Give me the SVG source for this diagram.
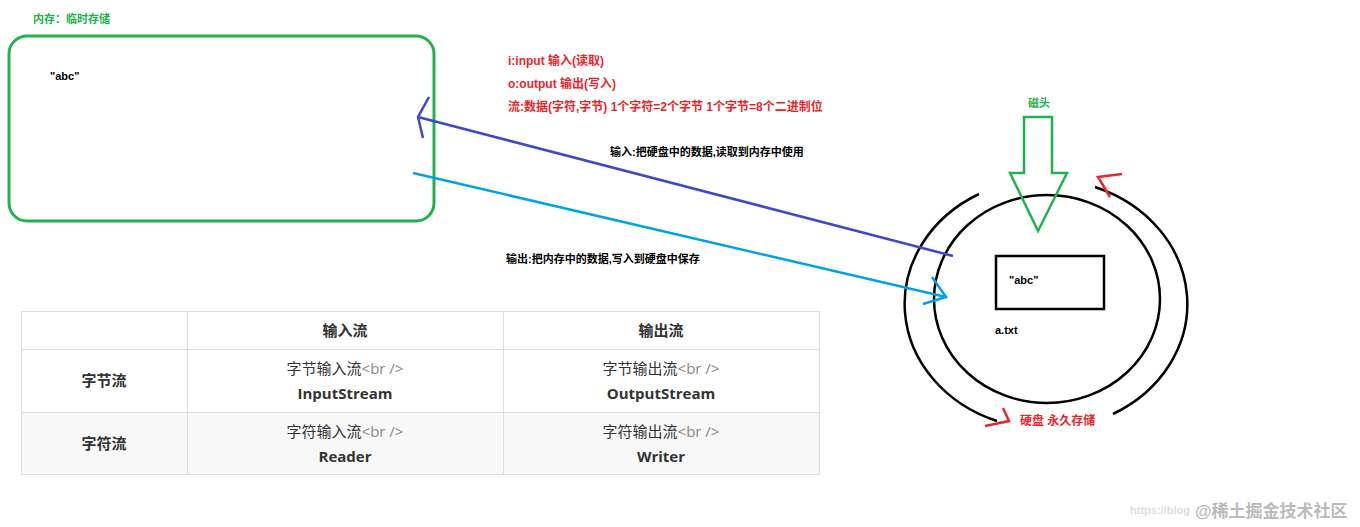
<svg xmlns="http://www.w3.org/2000/svg" width="1360" height="527" viewBox="0 0 1360 527">
<style>
text{font-family:"Liberation Sans","Noto Sans CJK SC",sans-serif;font-weight:bold}
.r{fill:#e8262b;font-size:12px}
.k{fill:#000;font-size:11px}
.t{font-family:"Open Sans","Noto Sans CJK SC",sans-serif;font-size:15px;fill:#333;text-anchor:middle;font-weight:normal}
.tb{font-weight:bold}
.g{fill:#888;font-weight:normal}
</style>
<rect width="1360" height="527" fill="#fff"/>
<g id="memory">
<rect x="9" y="36" width="425" height="185" rx="18" fill="none" stroke="#22b14c" stroke-width="3"/>
<text x="33" y="23" fill="#22b14c" font-size="11">内存：临时存储</text>
<text x="50" y="80" class="k">"abc"</text>
</g>
<g id="notes">
<text x="508" y="65" class="r">i:input 输入(读取)</text>
<text x="508" y="88" class="r">o:output 输出(写入)</text>
<text x="508" y="111" class="r">流:数据(字符,字节) 1个字符=2个字节 1个字节=8个二进制位</text>
</g>
<g id="disk">
<path d="M979,194 A142,125 0 0 0 997,421" fill="none" stroke="#000" stroke-width="2.5"/>
<path d="M1113,414 A142,125 0 0 0 1095,187" fill="none" stroke="#000" stroke-width="2.5"/>
<ellipse cx="1047" cy="299" rx="113" ry="104" fill="none" stroke="#000" stroke-width="2.5"/>
<path d="M985,426 L1009,421 L1003,408" fill="none" stroke="#e8262b" stroke-width="2.5"/>
<path d="M1122,174 L1098,177 L1110,197" fill="none" stroke="#e8262b" stroke-width="2.5"/>
<text x="1020" y="425" class="r">硬盘 永久存储</text>
<rect x="996" y="256" width="108" height="53" fill="none" stroke="#000" stroke-width="2.5"/>
<text x="1009" y="284" class="k">"abc"</text>
<text x="995" y="334" class="k">a.txt</text>
</g>
<g id="head">
<text x="1028" y="107" fill="#22b14c" font-size="11">磁头</text>
<path d="M1024,117 H1052 V173 H1067 L1038,231 L1010,173 H1024 Z" fill="none" stroke="#22b14c" stroke-width="2.5"/>
</g>
<g id="connectors">
<path d="M953,256 L418,117" stroke="#3f48cc" stroke-width="2.5" fill="none"/>
<path d="M429,97 L418,117 L423,138" stroke="#3f48cc" stroke-width="2.5" fill="none"/>
<path d="M413,173 L946,297" stroke="#00a2e8" stroke-width="2.5" fill="none"/>
<path d="M932,277 L946,297 L923,304" stroke="#00a2e8" stroke-width="2.5" fill="none"/>
<text x="610" y="156" class="k">输入:把硬盘中的数据,读取到内存中使用</text>
<text x="506" y="263" class="k">输出:把内存中的数据,写入到硬盘中保存</text>
</g>
<g id="table">
<rect x="21" y="412" width="799" height="63" fill="#f8f8f8"/>
<g fill="none" stroke="#ddd" stroke-width="1">
<rect x="21.5" y="311.5" width="798" height="163"/>
<path d="M21,349.5H820M21,412.5H820M187.5,311V475M503.5,311V475"/>
</g>
<text x="345" y="336" class="t tb">输入流</text>
<text x="661" y="336" class="t tb">输出流</text>
<text x="104" y="386" class="t tb">字节流</text>
<text x="104" y="449" class="t tb">字符流</text>
<text x="345" y="374" class="t">字节输入流<tspan class="g">&lt;br /&gt;</tspan></text>
<text x="345" y="399" class="t tb">InputStream</text>
<text x="661" y="374" class="t">字节输出流<tspan class="g">&lt;br /&gt;</tspan></text>
<text x="661" y="399" class="t tb">OutputStream</text>
<text x="345" y="437" class="t">字符输入流<tspan class="g">&lt;br /&gt;</tspan></text>
<text x="345" y="462" class="t tb">Reader</text>
<text x="661" y="437" class="t">字符输出流<tspan class="g">&lt;br /&gt;</tspan></text>
<text x="661" y="462" class="t tb">Writer</text>
</g>
<text x="1195" y="517" fill="#bbb" font-size="17" font-weight="normal">@稀土掘金技术社区</text>
<text x="1130" y="514" fill="#ddd" font-size="11" font-weight="normal">https://blog</text>
</svg>
